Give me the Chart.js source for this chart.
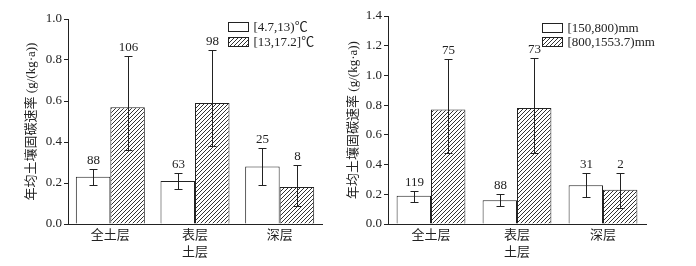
<!DOCTYPE html>
<html>
<head>
<meta charset="utf-8">
<script src="https://cdn.jsdelivr.net/npm/chart.js@4.4.0/dist/chart.umd.min.js"></script>
<style>
body { margin: 0; background: #fff; width: 696px; height: 266px; position: relative; overflow: hidden; }
canvas { position: absolute; top: 0; }
#tempChart { left: 0; }
#rainChart { left: 340px; }
</style>
</head>
<body>
<canvas id="tempChart" width="348" height="266"></canvas>
<canvas id="rainChart" width="356" height="266"></canvas>
<script>
// categories
const layers = ['全土层', '表层', '深层'];

// left panel: temperature classes
const tempLabels = ['[4.7,13)℃', '[13,17.2]℃'];
const tempCold = [0.23, 0.21, 0.28];
const tempColdLo = [0.19, 0.17, 0.19];
const tempColdHi = [0.27, 0.25, 0.37];
const tempColdN = [88, 63, 25];
const tempWarm = [0.57, 0.59, 0.18];
const tempWarmLo = [0.36, 0.38, 0.09];
const tempWarmHi = [0.82, 0.85, 0.29];
const tempWarmN = [106, 98, 8];

// right panel: precipitation classes
const rainLabels = ['[150,800)mm', '[800,1553.7)mm'];
const rainDry = [0.19, 0.16, 0.26];
const rainDryLo = [0.15, 0.12, 0.18];
const rainDryHi = [0.22, 0.20, 0.34];
const rainDryN = [119, 88, 31];
const rainWet = [0.77, 0.78, 0.23];
const rainWetLo = [0.48, 0.48, 0.11];
const rainWetHi = [1.11, 1.12, 0.34];
const rainWetN = [75, 73, 2];

const tempMax = 1.0;
const rainMax = 1.4;
const yTitle = '年均土壤固碳速率 (g/(kg·a))';
const xTitle = '土层';

const FONT = '"Liberation Serif", "Noto Sans CJK SC", serif';
const INK = '#222';

// diagonal hatch fill
function makeHatch() {
    var c = document.createElement('canvas');
    c.width = 4; c.height = 4;
    var g = c.getContext('2d');
    g.fillStyle = '#fff';
    g.fillRect(0, 0, 4, 4);
    g.strokeStyle = '#333';
    g.lineWidth = 1;
    g.beginPath();
    g.moveTo(0, 4); g.lineTo(4, 0);
    g.moveTo(-1, 1); g.lineTo(1, -1);
    g.moveTo(3, 5); g.lineTo(5, 3);
    g.stroke();
    return g.createPattern(c, 'repeat');
}
const hatch = makeHatch();

// error bars, sample counts and the boxed legend
const errorBars = {
    id: 'errorBars',
    afterDatasetsDraw(chart, args, opts) {
        const ctx = chart.ctx;
        const y = chart.scales.y;
        ctx.save();
        ctx.strokeStyle = INK;
        ctx.fillStyle = INK;
        ctx.lineWidth = 1;
        ctx.font = '13px ' + FONT;
        ctx.textAlign = 'center';
        ctx.textBaseline = 'bottom';
        chart.data.datasets.forEach(function(ds, i) {
            chart.getDatasetMeta(i).data.forEach(function(bar, j) {
                const x = Math.round(bar.x) + 0.5;
                const top = Math.round(y.getPixelForValue(ds.hi[j])) + 0.5;
                const bot = Math.round(y.getPixelForValue(ds.lo[j])) + 0.5;
                ctx.beginPath();
                ctx.moveTo(x, top); ctx.lineTo(x, bot);
                ctx.moveTo(x - 4, top); ctx.lineTo(x + 4, top);
                ctx.moveTo(x - 4, bot); ctx.lineTo(x + 4, bot);
                ctx.stroke();
                ctx.fillText(String(ds.n[j]), x, top - 2);
            });
        });

        ctx.textAlign = 'left';
        ctx.textBaseline = 'middle';
        chart.data.datasets.forEach(function(ds, i) {
            const bx = opts.legendX + 0.5;
            const by = Math.round(opts.legendY + i * opts.legendGap) + 0.5;
            ctx.fillStyle = ds.backgroundColor;
            ctx.fillRect(bx, by, 20, 9);
            ctx.strokeRect(bx, by, 20, 9);
            ctx.fillStyle = INK;
            ctx.fillText(ds.label, bx + 25, by + 5);
        });
        ctx.restore();
    }
};

function makeChart(id, labels, series, yMax, layout) {
    var ctx = document.getElementById(id).getContext('2d');
    return new Chart(ctx, {
        type: 'bar',
        data: {
            labels: layers,
            datasets: [
                {
                    label: labels[0],
                    data: series[0].v,
                    lo: series[0].lo,
                    hi: series[0].hi,
                    n: series[0].n,
                    backgroundColor: '#fff',
                    borderColor: INK,
                    borderWidth: 1,
                    categoryPercentage: layout.cat,
                    barPercentage: 1
                },
                {
                    label: labels[1],
                    data: series[1].v,
                    lo: series[1].lo,
                    hi: series[1].hi,
                    n: series[1].n,
                    backgroundColor: hatch,
                    borderColor: INK,
                    borderWidth: 1,
                    categoryPercentage: layout.cat,
                    barPercentage: 1
                }
            ]
        },
        options: {
            responsive: false,
            animation: false,
            layout: { padding: { left: layout.left, right: layout.right, top: layout.top, bottom: 0 } },
            plugins: {
                legend: { display: false },
                tooltip: { enabled: false },
                errorBars: { legendX: layout.legendX, legendY: layout.legendY, legendGap: layout.gap }
            },
            scales: {
                x: {
                    grid: { display: false, drawTicks: false, tickLength: 0 },
                    border: { color: INK },
                    ticks: { color: INK, padding: 4, font: { family: FONT, size: 13 } },
                    title: { display: true, text: xTitle, color: INK, padding: { top: 0, bottom: 6 }, font: { family: FONT, size: 13 } },
                    afterFit: function(s) { s.height = 42; }
                },
                y: {
                    min: 0,
                    max: yMax,
                    grid: { drawOnChartArea: false, drawTicks: true, tickLength: 4, color: INK },
                    border: { color: INK },
                    ticks: {
                        stepSize: 0.2,
                        color: INK,
                        padding: 2,
                        font: { family: FONT, size: 13 },
                        callback: function(value) { return value.toFixed(1); }
                    },
                    title: { display: true, text: yTitle, color: INK, padding: 0, font: { family: FONT, size: 13 } },
                    afterFit: function(s) { s.width = layout.yWidth; }
                }
            }
        },
        plugins: [errorBars]
    });
}

makeChart('tempChart', tempLabels, [
    { v: tempCold, lo: tempColdLo, hi: tempColdHi, n: tempColdN },
    { v: tempWarm, lo: tempWarmLo, hi: tempWarmHi, n: tempWarmN }
], tempMax, { left: 24, right: 26, top: 19, yWidth: 44, cat: 0.815, legendX: 228, legendY: 22, gap: 15 });

makeChart('rainChart', rainLabels, [
    { v: rainDry, lo: rainDryLo, hi: rainDryHi, n: rainDryN },
    { v: rainWet, lo: rainWetLo, hi: rainWetHi, n: rainWetN }
], rainMax, { left: 6, right: 50, top: 16, yWidth: 42, cat: 0.8, legendX: 202, legendY: 22.5, gap: 14 });
</script>
</body>
</html>
